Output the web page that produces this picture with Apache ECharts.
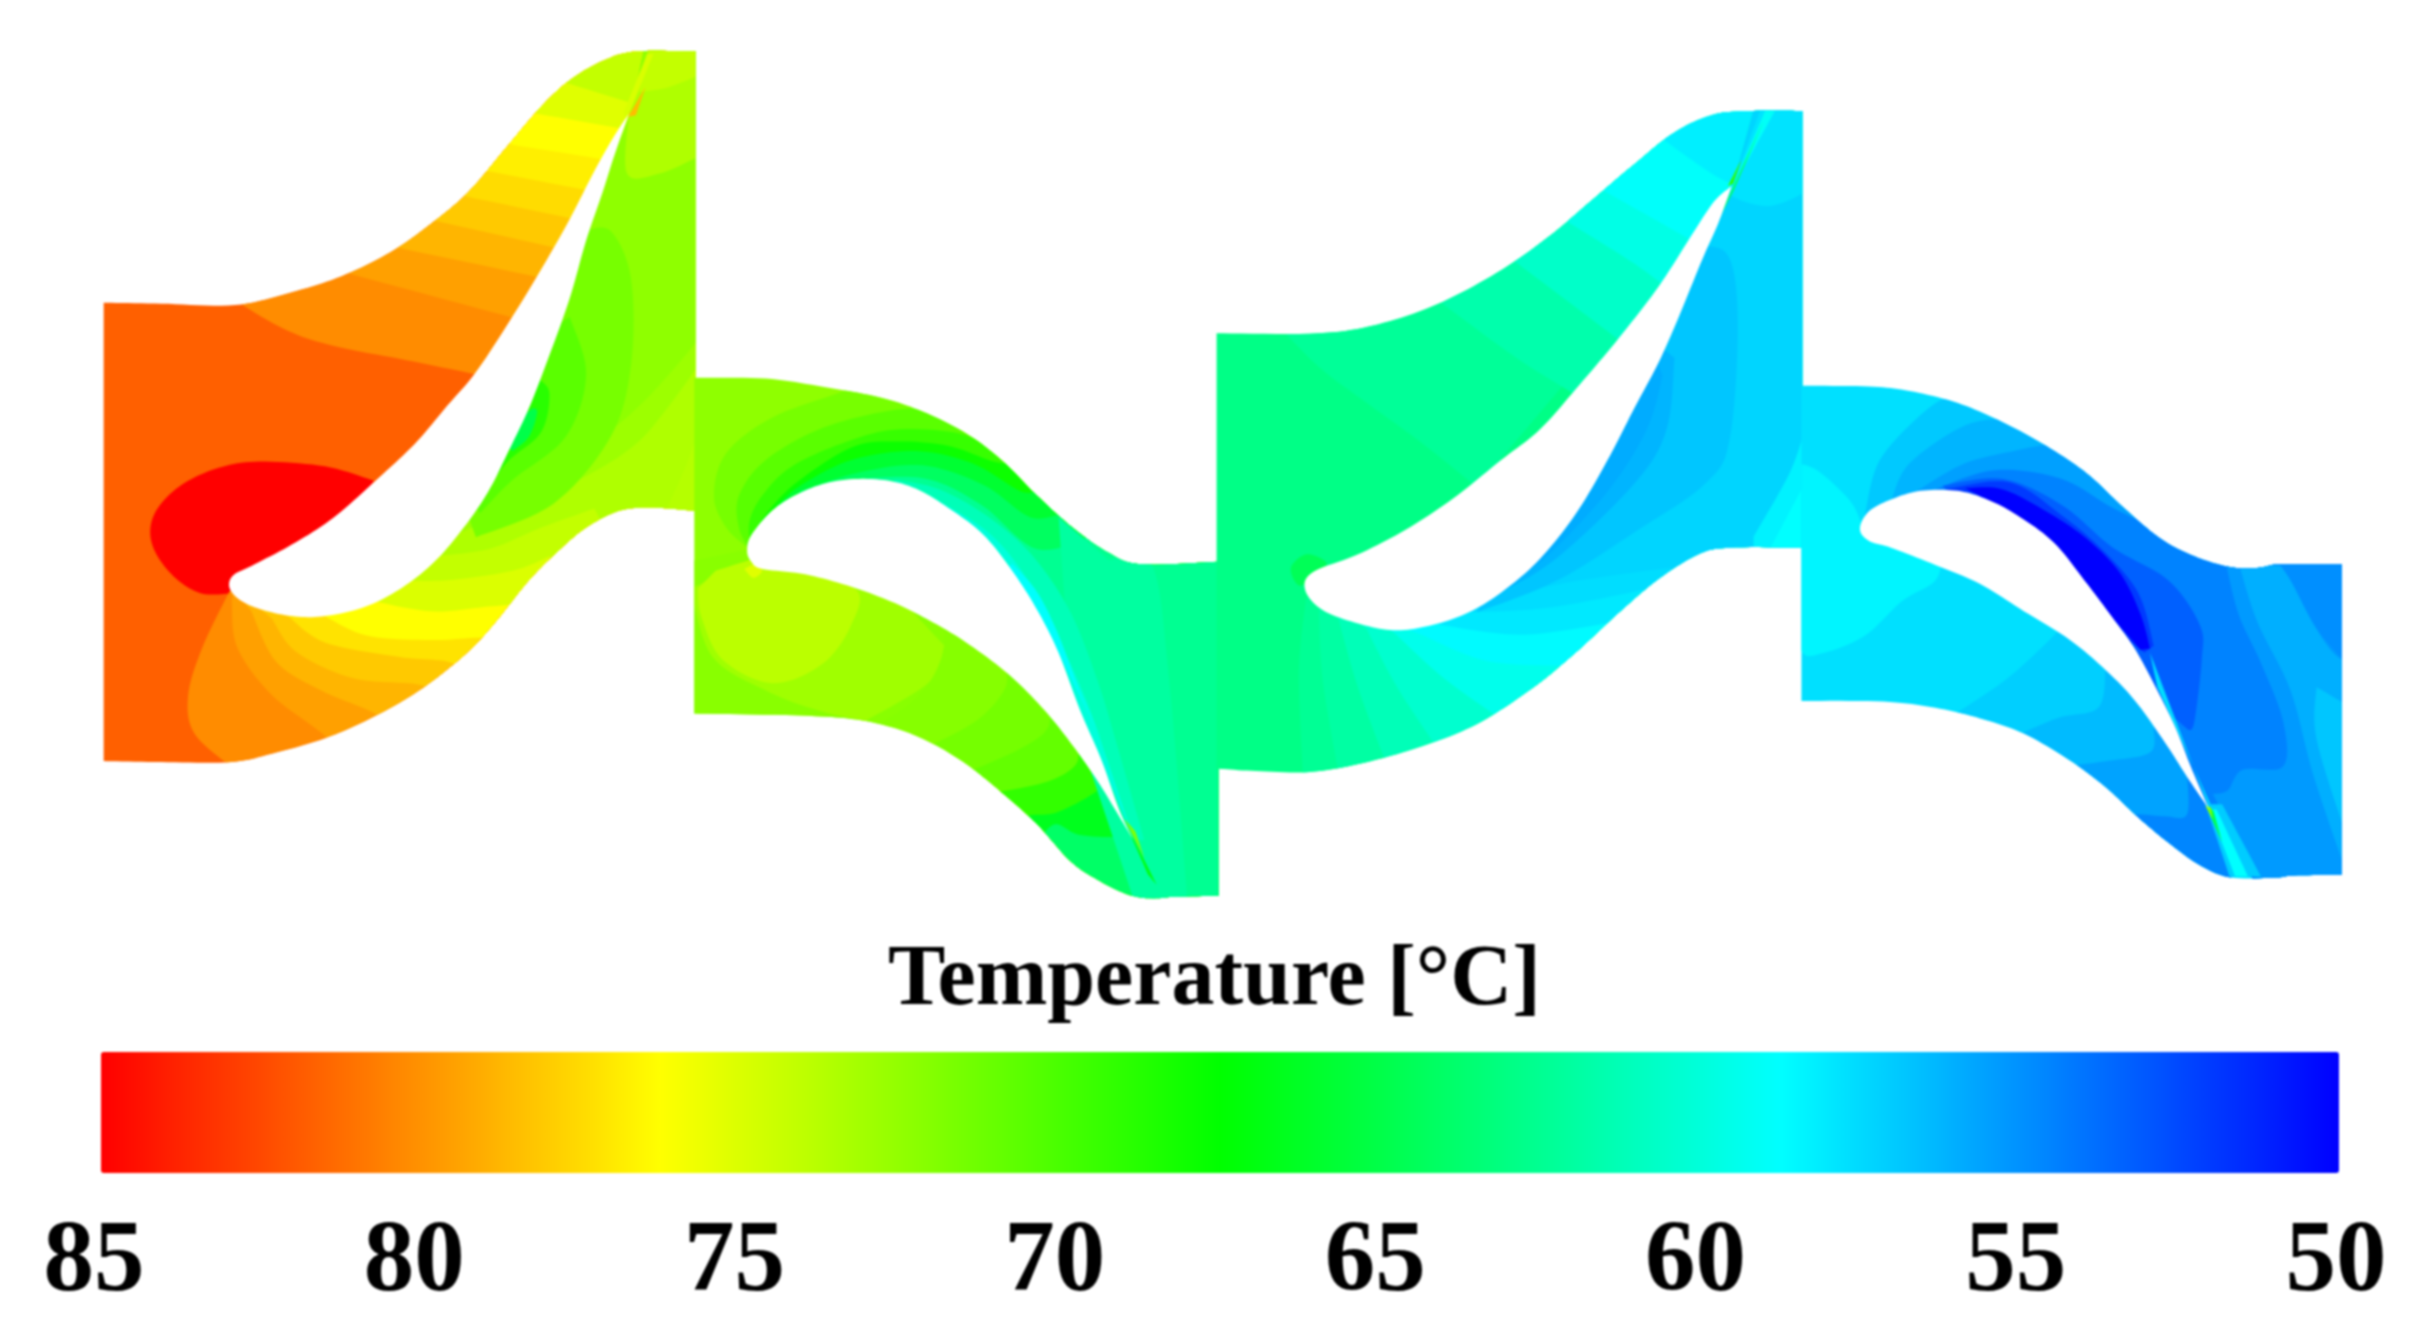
<!DOCTYPE html>
<html><head><meta charset="utf-8">
<style>html,body{margin:0;padding:0;background:#fff}#main{width:2429px;height:1342px;filter:blur(0.8px)}</style>
<script src="https://cdn.jsdelivr.net/npm/echarts@6/dist/echarts.min.js"></script>
</head><body><div id="main"></div>
<script>
const tickTemps=[85,80,75,70,65,60,55,50];
const titleText='Temperature [°C]';
const S=1;
/* Each flow passage in its own crop frame: [left, top, scaleX, scaleY]. */
const frameA=[80,30,2.45,2.09], frameB=[680,360,2.8,2.8], frameC=[1200,90,2.529,2.24], frameD=[1780,360,2.703,2.904];

const outlineA=[[58,570,S],[200,572],[380,575],[520,548],[640,515],[760,465],[860,405],[950,340],[1040,250],[1130,160],[1200,105],[1280,65],[1360,45],[1508,45,S],[1508,1005,S],[1400,998],[1320,1005],[1240,1040],[1170,1090],[1100,1150],[1020,1235],[950,1300],[840,1375],[720,1435],[600,1480],[480,1510],[370,1530],[200,1530],[58,1528,S]];
const bladeA=[[1345,175,S],[1310,220],[1260,295],[1200,395],[1130,500],[1055,605],[970,715],[900,785],[820,865],[720,945],[620,1020],[520,1075],[420,1120],[375,1140],[366,1165],[390,1190],[440,1210],[520,1225],[600,1225],[700,1205],[790,1165],[870,1110],[940,1040],[1000,965],[1050,880],[1100,790],[1150,680],[1200,560],[1240,440],[1280,340],[1310,260]];
const upperCloseA=[[1345,175,S],[1412,40,S],[1412,-100,S],[-100,-100,S]];
const lowerCloseA=[[1700,1700,S],[1700,-100,S],[1415,-100,S],[1350,170,S],[1210,470,S],[1040,770,S],[800,1010,S],[500,1150,S],[375,1165,S]];
const upperBandsA=[
 [80.2,[[370,560,S],[500,625],[620,660],[800,690],[960,718],[1020,730,S]]],
 [79.5,[[620,500,S],[1055,600],[1110,612,S]]],
 [78.8,[[750,450,S],[1115,515],[1170,525,S]]],
 [78.1,[[850,395,S],[1165,455],[1220,465,S]]],
 [77.45,[[930,345,S],[1210,395],[1260,405,S]]],
 [76.8,[[1000,295,S],[1245,335],[1290,340,S]]],
 [76.25,[[1060,240,S],[1280,270],[1320,275,S]]],
 [75.2,[[1120,175,S],[1320,205],[1345,210,S]]],
 [74.2,[[1190,110,S],[1340,150],[1370,160,S]]]];
const blobA=[85,[[720,942,S],[600,912],[440,902],[340,915],[250,950],[190,1000],[172,1050],[190,1100],[240,1150],[300,1178],[368,1178,S],[600,1100,S]]];
const lowerBandsA=[
 [80.2,[[365,1175,S],[300,1290],[265,1390],[280,1470],[370,1540,S]]],
 [79.5,[[372,1195,S],[385,1290],[470,1390],[605,1480],[620,1530,S]]],
 [78.8,[[420,1215,S],[480,1320],[590,1380],[725,1430],[760,1470,S]]],
 [78.1,[[470,1230,S],[530,1300],[670,1355],[840,1370],[880,1410,S]]],
 [77.2,[[510,1225,S],[600,1280],[780,1310],[900,1320],[950,1345,S]]],
 [76.25,[[590,1220,S],[700,1265],[860,1275],[985,1270],[1020,1280,S]]],
 [75,[[700,1190,S],[860,1215],[1000,1205],[1080,1200,S]]],
 [74.2,[[780,1150,S],[900,1150],[1060,1130],[1150,1100,S]]],
 [73.5,[[860,1100,S],[1000,1085],[1130,1040],[1260,1000,S]]],
 [72.9,[[900,1060,S],[1050,1010],[1200,950],[1340,880],[1430,800],[1600,600,S]]],
 [72.4,[[960,1010,S],[1100,930],[1260,860],[1400,760],[1600,560,S]]]];
const patchesA=[
 [73.7,[[1510,850,S],[1480,920],[1440,995,S],[1470,1020,S],[1510,1020,S]]],
 [73.5,[[1345,175,S],[1340,300],[1420,300],[1515,265,S],[1515,-20,S],[1412,-20,S]]],
 [74.2,[[1370,130,S],[1440,120],[1515,95,S],[1515,-20,S],[1412,-20,S]]],
 [71.6,[[1235,420,S],[1300,420],[1350,520],[1350,700],[1300,850],[1160,990],[970,1060,S],[900,900,S],[1100,600,S]]],
 [70.6,[[1200,600,S],[1240,720],[1190,850],[1060,940],[980,1010,S],[900,900,S],[1100,650,S]]],
 [68.9,[[1125,730,S],[1150,760],[1130,840],[1050,900],[1010,945,S],[950,900,S],[1080,700,S]]],
 [65,[[1110,790,S],[1120,800],[1100,850],[1060,880,S],[1020,850,S]]],
 [74.9,[[1338,190,S],[1405,50,S],[1390,50,S],[1332,172,S]]],
 [78.5,[[1342,182,S],[1385,120,S],[1362,178,S]]]];

const outlineB=[[40,50,S],[240,52],[400,75],[560,105],[680,145],[800,205],[900,280],[1000,380],[1100,470],[1200,540],[1290,572],[1508,565,S],[1508,1500,S],[1380,1503],[1320,1508],[1250,1495],[1160,1450],[1090,1400],[1000,1300],[900,1210],[800,1130],[700,1070],[600,1030],[480,1005],[320,995],[40,990,S]];
const bladeB=[[1270,1345,S],[1230,1260],[1180,1120],[1120,980],[1060,820],[1000,700],[930,590],[850,490],[760,420],[660,360],[560,335],[440,338],[340,370],[260,420],[200,490],[188,535],[200,565],[230,585],[350,600],[480,635],[600,680],[700,730],[800,790],[920,880],[1020,980],[1100,1080],[1170,1180],[1225,1270]];
const lowerBaseB=[72.2,[[0,570,S],[190,530,S],[600,500,S],[900,700,S],[1100,1010,S],[1270,1345,S],[1340,1480,S],[1350,1700,S],[0,1700,S]]];
const patchesLowB=[
 [73,[[30,640,S],[90,830],[250,930],[400,985],[520,1010,S],[700,900],[740,800,S],[600,650,S],[200,560,S]]],
 [73.9,[[195,560,S],[300,590,S],[490,640],[480,740],[400,850],[260,905],[120,840],[60,720],[50,640,S],[100,590,S]]],
 [75.2,[[180,585,S],[205,572,S],[230,590],[205,610]]]];
const lowerCloseB=[[1350,1700,S],[1270,1345,S],[1200,900,S]];
const lowerBandsB=[
 [72.1,[[730,700,S],[740,800],[700,900],[620,980],[480,1060,S],[480,1700,S]]],
 [71.5,[[910,850,S],[910,920],[830,1010],[680,1090,S],[680,1700,S]]],
 [70.9,[[1030,950,S],[1030,1030],[950,1090],[790,1160,S],[790,1700,S]]],
 [69.2,[[1110,1060,S],[1110,1130],[1030,1180],[890,1210,S],[890,1700,S]]],
 [66.5,[[1180,1150,S],[1175,1200],[1060,1265],[980,1275],[930,1290,S],[930,1700,S]]],
 [64,[[1240,1270,S],[1240,1330],[1120,1330],[1050,1300],[1000,1350,S],[1000,1700,S]]]];
const upperCloseB=[[1800,100,S],[1800,1700,S],[1350,1700,S],[1340,1480,S],[1270,1345,S],[1120,1000,S],[900,700,S],[600,500,S],[300,500,S],[195,530,S]];
const upperBandsB=[
 [71.6,[[195,530,S],[130,470],[95,380],[130,260],[260,160],[450,90],[560,40,S]]],
 [70.6,[[195,530,S],[165,470],[165,380],[240,280],[400,190],[600,140],[740,140],[820,150,S]]],
 [69.4,[[195,520,S],[195,450],[230,380],[310,300],[450,235],[600,195],[780,205],[880,250],[920,240,S]]],
 [67.9,[[200,490,S],[250,420],[330,340],[480,245],[600,228],[750,240],[880,285],[950,290,S]]],
 [65.8,[[270,410,S],[340,350],[480,280],[660,255],[820,290],[960,370],[1010,350,S]]],
 [64.2,[[340,365,S],[500,315],[680,295],[850,350],[980,440],[1070,430,S]]],
 [62.5,[[420,345,S],[540,330],[700,335],[850,410],[1000,530],[1160,490,S]]]];
const patchesB=[
 [62,[[1060,440,S],[1200,560,S],[1320,570],[1370,900],[1420,1510,S],[1270,1510,S],[1100,1000,S]]],
 [61.2,[[600,335,S],[720,360],[850,430],[980,540],[1090,700],[1170,900],[1230,1100],[1300,1345,S],[1270,1345,S],[1000,700,S],[600,500,S]]],
 [60,[[700,380,S],[860,480],[970,610],[1060,780],[1140,960],[1200,1130],[1270,1340,S],[1000,700,S]]],
 [58.9,[[930,570,S],[1000,650],[1060,770],[1120,930],[1180,1060,S],[1060,820,S],[900,600,S]]],
 [67,[[1240,1280,S],[1335,1470,S],[1310,1440,S]]],
 [72,[[1245,1285,S],[1300,1395,S],[1275,1320,S]]]];

const outlineC=[[42,545,S],[300,545],[450,525],[600,480],[750,410],[880,330],[1000,240],[1100,165],[1200,95],[1300,55],[1400,47],[1523,47,S],[1523,1025,S],[1340,1025],[1260,1040],[1160,1095],[1060,1170],[950,1260],[840,1340],[700,1420],[560,1470],[400,1510],[270,1528],[130,1525],[42,1520,S]];
const bladeC=[[1345,215,S],[1300,250],[1240,330],[1160,440],[1060,555],[960,660],[860,760],[760,830],[640,915],[520,985],[400,1040],[285,1080],[266,1120],[310,1165],[400,1195],[490,1210],[580,1200],[680,1170],[770,1120],[860,1050],[950,950],[1030,830],[1100,710],[1160,610],[1210,510],[1270,380],[1310,300]];
const upperCloseC=[[1345,215,S],[1445,40,S],[1445,-100,S],[-100,-100,S]];
const lowerCloseC=[[1700,1700,S],[1700,-100,S],[1445,-100,S],[1350,205,S],[1210,450,S],[1040,720,S],[800,980,S],[500,1130,S],[285,1125,S]];
const upperBandsC=[
 [62.3,[[200,530,S],[300,620],[420,700],[560,790],[700,890,S]]],
 [61.6,[[600,470,S],[800,600],[960,690],[1000,730,S]]],
 [60.6,[[790,380,S],[1000,520],[1090,580,S]]],
 [59.6,[[920,290,S],[1100,390],[1190,450,S]]],
 [58.9,[[1020,225,S],[1230,330],[1270,350,S]]],
 [58.2,[[1170,110,S],[1290,185],[1345,210,S]]]];
const lowerBandsC=[
 [62.4,[[268,1140,S],[250,1300],[260,1540,S]]],
 [61.9,[[300,1160,S],[310,1320],[350,1530,S]]],
 [61.2,[[350,1185,S],[400,1340],[480,1530,S]]],
 [60.4,[[420,1205,S],[500,1340],[620,1500,S]]],
 [59.4,[[490,1215,S],[620,1320],[780,1420,S]]],
 [58.6,[[560,1220,S],[730,1280],[950,1290,S]]],
 [58,[[620,1200,S],[820,1220],[1060,1190,S]]],
 [57.6,[[680,1170,S],[880,1160],[1120,1120,S]]],
 [57.3,[[730,1140,S],[950,1100],[1190,1070,S]]]];
const patchesC=[
 [64.5,[[230,1070],[270,1040],[320,1060],[290,1090],[250,1110]]],
 [57.8,[[1345,215,S],[1350,240],[1440,260],[1530,230,S],[1530,-20,S],[1445,-20,S]]],
 [56.8,[[1250,350,S],[1335,370],[1360,520],[1340,780],[1280,880],[1100,990],[900,1100],[700,1170,S],[800,980,S],[1040,720,S],[1210,450,S]]],
 [56.2,[[1200,600,S],[1180,760],[1100,880],[900,1050],[750,1130,S],[800,980,S],[1040,720,S],[1130,550,S]]],
 [55.9,[[1170,640,S],[1130,760],[1030,900],[870,1050],[740,1130,S],[800,980,S],[1040,720,S],[1130,550,S]]],
 [58.3,[[1530,760,S],[1490,860],[1400,1000,S],[1400,1040,S],[1530,1040,S]]],
 [58.75,[[1530,880,S],[1440,1030,S],[1530,1030,S]]],
 [59,[[1340,230,S],[1430,45,S],[1455,45,S]]],
 [64,[[1300,310,S],[1425,70,S],[1350,225,S]]],
 [69,[[1335,215,S],[1370,155,S],[1348,210,S]]]];

const outlineD=[[58,75,S],[240,77],[350,90],[480,125],[600,180],[720,250],[830,330],[930,430],[1030,520],[1120,570],[1210,600],[1280,605],[1340,593,S],[1518,593,S],[1518,1495,S],[1390,1497],[1340,1503],[1220,1503],[1140,1470],[1060,1410],[970,1330],[880,1240],[780,1160],[660,1085],[540,1040],[420,1010],[280,992],[58,990,S]];
const bladeD=[[1160,1305,S],[1110,1180],[1070,1070],[1020,960],[960,840],[900,750],[830,650],[740,530],[640,450],[560,405],[480,380],[380,380],[300,405],[240,440],[216,490],[240,525],[300,545],[420,595],[540,650],[660,730],[780,810],[880,900],[960,990],[1040,1110],[1100,1210]];
const lowerCloseD=[[1280,1700,S],[1160,1305,S],[1100,800,S]];
const lowerBandsD=[
 [57.1,[[760,780,S],[620,920],[470,1030,S],[470,1700,S]]],
 [56.4,[[880,900,S],[860,1010],[750,1040],[620,1100,S],[620,1700,S]]],
 [55.6,[[1010,1070,S],[1000,1140],[880,1165],[770,1180,S],[770,1700,S]]],
 [54.6,[[1100,1200,S],[1100,1320],[1040,1325],[960,1320],[930,1340,S],[930,1700,S]]]];
const cyanLeftD=[58.4,[[40,700,S],[58,845],[120,850],[230,800],[330,700],[420,640],[440,560,S],[225,490,S],[190,410],[100,320],[40,300,S]]];
const upperCloseD=[[1800,100,S],[1800,1700,S],[1290,1700,S],[1280,1510,S],[1160,1305,S],[1000,990,S],[800,730,S],[600,560,S],[300,480,S],[225,490,S]];
const upperBandsD=[
 [56.9,[[230,445,S],[270,290],[390,150],[480,90,S]]],
 [56.2,[[300,410,S],[350,300],[500,190],[620,170,S]]],
 [55.5,[[370,380,S],[500,300],[650,260],[750,240,S]]],
 [54.5,[[420,375,S],[580,320],[760,345],[900,430],[1040,500,S]]]];
const patchesD=[
 [53.3,[[440,365,S],[600,345],[760,420],[900,545],[1050,640],[1135,770],[1140,870],[1120,1050],[1105,1075,S],[980,960,S],[800,730,S],[500,450,S]]],
 [52,[[450,375,S],[620,355],[760,450],[880,560],[970,680],[1010,830,S],[985,850,S],[800,700,S]]],
 [50,[[500,372,S],[600,375],[720,440],[830,520],[920,620],[975,740],[1000,838,S],[975,842,S],[900,750,S],[830,650,S],[740,530,S],[640,450,S],[560,405,S]]],
 [55.3,[[1205,590,S],[1240,740],[1300,880],[1360,1050],[1360,1180],[1250,1190],[1210,1250],[1170,1260,S],[1290,1520,S],[1800,1520,S],[1800,500,S]]],
 [56,[[1240,590,S],[1290,760],[1380,960],[1440,1200],[1518,1450,S],[1600,1450,S],[1600,880,S],[1518,870],[1450,780],[1370,600,S]]],
 [54.9,[[1340,580,S],[1380,640],[1450,780],[1530,880,S],[1600,580,S]]],
 [56.8,[[1450,950,S],[1450,1100],[1530,1380,S],[1530,1000,S]]],
 [57.6,[[1000,850,S],[1160,1300,S],[1170,1305,S],[1020,950,S]]],
 [57,[[1150,1290,S],[1215,1500,S],[1300,1500,S],[1195,1290,S]]],
 [58.75,[[1160,1305,S],[1230,1500,S],[1265,1500,S],[1180,1305,S]]],
 [65,[[1150,1290,S],[1195,1400,S],[1172,1310,S]]],
 [72,[[1150,1295,S],[1170,1335,S],[1165,1300,S]]]];

const toFull=(f,pts)=>pts.map(p=>[f[0]+p[0]/f[2],f[1]+p[1]/f[3],p[2]||0]);
const regions=[], blades=[];
function addRegion(frame,outline,temp,pts){regions.push({temp,pts:toFull(frame,pts),clip:toFull(frame,outline)});}
function addBands(frame,outline,bands,close){bands.forEach(b=>addRegion(frame,outline,b[0],close?b[1].concat(close):b[1]));}
const rect=[[-100,-100,S],[1800,-100,S],[1800,1800,S],[-100,1800,S]];
// passage A
addRegion(frameA,outlineA,81.7,rect);
addBands(frameA,outlineA,upperBandsA,upperCloseA);
addBands(frameA,outlineA,[blobA]);
addBands(frameA,outlineA,lowerBandsA,lowerCloseA);
addBands(frameA,outlineA,patchesA);
// passage B
addRegion(frameB,outlineB,72.4,rect);
addBands(frameB,outlineB,[lowerBaseB]);
addBands(frameB,outlineB,patchesLowB);
addBands(frameB,outlineB,lowerBandsB,lowerCloseB);
addBands(frameB,outlineB,upperBandsB,upperCloseB);
addBands(frameB,outlineB,patchesB);
// passage C
addRegion(frameC,outlineC,62.9,rect);
addBands(frameC,outlineC,upperBandsC,upperCloseC);
addBands(frameC,outlineC,lowerBandsC,lowerCloseC);
addBands(frameC,outlineC,patchesC);
// passage D
addRegion(frameD,outlineD,57.7,rect);
addBands(frameD,outlineD,lowerBandsD,lowerCloseD);
addBands(frameD,outlineD,[cyanLeftD]);
addBands(frameD,outlineD,upperBandsD,upperCloseD);
addBands(frameD,outlineD,patchesD);
[[frameA,bladeA],[frameB,bladeB],[frameC,bladeC],[frameD,bladeD]].forEach(b=>blades.push(toFull(b[0],b[1])));

function spline(pts){
  const n=pts.length, first=pts.findIndex(p=>p[2]);
  const out=[];
  const seg=(a,b,c,d)=>{for(let k=0;k<10;k++){const t=k/10,t2=t*t,t3=t2*t;
    out.push([0,1].map(i=>0.5*(2*b[i]+(c[i]-a[i])*t+(2*a[i]-5*b[i]+4*c[i]-d[i])*t2+(3*b[i]-a[i]-3*c[i]+d[i])*t3)));}};
  if(first<0){for(let i=0;i<n;i++)seg(pts[(i+n-1)%n],pts[i],pts[(i+1)%n],pts[(i+2)%n]);return out;}
  const r=pts.slice(first).concat(pts.slice(0,first)); r.push(r[0]);
  for(let i=0;i<n;i++){
    const b=r[i],c=r[i+1];
    const a=b[2]?b:r[i-1], d=c[2]?c:r[i+2];
    seg(a,b,c,d);
  }
  return out;
}
const project=(api,pts)=>pts.map(p=>{const c=api.coord([p[0],p[1]]);return [c[0],c[1],p[2]];});

const chart=echarts.init(document.getElementById('main'),null,{renderer:'canvas'});
chart.setOption({
  animation:false,backgroundColor:'#ffffff',
  title:{text:titleText,left:'center',top:939,padding:0,textStyle:{fontFamily:'Liberation Serif',fontWeight:'bold',fontSize:86,color:'#000'}},
  grid:[{left:0,top:0,width:2429,height:1342},{left:94,width:2242,top:1180,height:10}],
  xAxis:[{gridIndex:0,type:'value',min:0,max:2429,show:false},
         {gridIndex:1,type:'value',min:50,max:85,interval:5,inverse:true,position:'bottom',
          axisLine:{show:false},axisTick:{show:false},splitLine:{show:false},
          axisLabel:{margin:23,hideOverlap:false,showMinLabel:true,showMaxLabel:true,fontFamily:'Liberation Serif',fontWeight:'bold',fontSize:101,color:'#000',formatter:v=>tickTemps.includes(v)?String(v):''}}],
  yAxis:[{gridIndex:0,type:'value',min:0,max:1342,inverse:true,show:false},
         {gridIndex:1,type:'value',min:0,max:1,show:false}],
  visualMap:{type:'continuous',seriesIndex:0,dimension:1,min:50,max:85,inverse:true,orient:'horizontal',left:101,top:1052,padding:0,
    itemWidth:121,itemHeight:2238,calculable:false,hoverLink:false,text:null,showLabel:false,
    inRange:{color:['#0000ff','#00ffff','#00ff00','#ffff00','#ff0000']}},
  series:[
   {type:'custom',xAxisIndex:0,yAxisIndex:0,silent:true,clip:false,progressive:0,
    data:regions.map((r,i)=>[i,r.temp]),
    renderItem:(p,api)=>{const r=regions[api.value(0)];
      return {type:'polygon',shape:{points:spline(project(api,r.pts))},style:{fill:api.visual('color')},
        clipPath:{type:'polygon',shape:{points:spline(project(api,r.clip))}}};}},
   {type:'custom',xAxisIndex:0,yAxisIndex:0,silent:true,clip:false,
    data:blades.map((b,i)=>[i]),
    renderItem:(p,api)=>({type:'polygon',shape:{points:spline(project(api,blades[api.value(0)]))},style:{fill:'#ffffff'}})},
   {type:'custom',xAxisIndex:1,yAxisIndex:1,silent:true,data:[],renderItem:()=>null}
  ]
});
</script></body></html>
